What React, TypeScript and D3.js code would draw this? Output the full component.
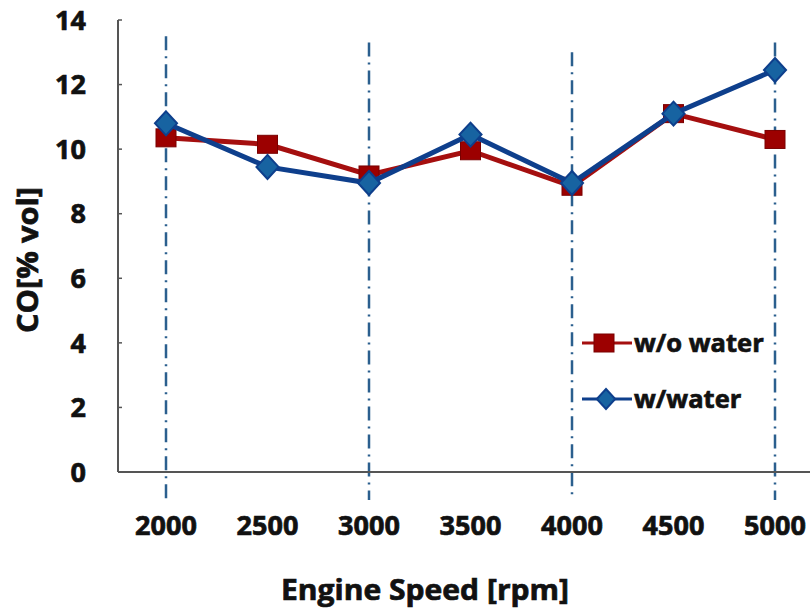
import React, { useEffect, useRef } from 'react';
import * as d3 from 'd3';

const speeds = ['2000', '2500', '3000', '3500', '4000', '4500', '5000'];
const withoutWater = [10.35, 10.15, 9.2, 9.95, 8.85, 11.1, 10.3];
const withWater = [10.8, 9.45, 8.95, 10.45, 8.95, 11.1, 12.45];
const yTicks = [0, 2, 4, 6, 8, 10, 12, 14];
const guideSpeeds = ['2000', '3000', '4000', '5000'];
const guideTops = [13.5, 13.3, 13.0, 13.3];

const W = 810;
const H = 615;
const FONT = '"Open Sans", "DejaVu Sans", sans-serif';

const App: React.FC = () => {
    const ref = useRef<SVGSVGElement>(null);

    useEffect(() => {
        if (!ref.current) return;
        const svg = d3.select(ref.current);
        svg.selectAll('*').remove();

        const x = d3.scalePoint<string>().domain(speeds).range([166, 775]);
        const y = d3.scaleLinear().domain([0, 14]).range([472, 20]);
        const left = 118;

        svg.append('rect').attr('width', W).attr('height', H).attr('fill', '#fff');

        // text helper, slightly heavier than plain bold
        const txt = (sel: d3.Selection<any, any, any, any>, size: number) =>
            sel.attr('font-family', FONT)
                .attr('font-weight', 700)
                .attr('font-size', size)
                .attr('fill', '#111')
                .attr('stroke', '#111')
                .attr('stroke-width', 0.7);

        // dash-dot guide lines
        svg.append('g')
            .selectAll('line')
            .data(guideSpeeds)
            .enter().append('line')
            .attr('x1', d => x(d) || 0)
            .attr('x2', d => x(d) || 0)
            .attr('y1', (d, i) => y(guideTops[i]))
            .attr('y2', y(0) + 28)
            .attr('stroke', '#2b5f8e')
            .attr('stroke-width', 2.5)
            .attr('stroke-dasharray', '14 6 2 6');

        // axes
        svg.append('line')
            .attr('x1', left).attr('x2', left)
            .attr('y1', y(14)).attr('y2', y(0))
            .attr('stroke', '#555').attr('stroke-width', 2);
        svg.append('line')
            .attr('x1', left).attr('x2', W)
            .attr('y1', y(0)).attr('y2', y(0))
            .attr('stroke', '#555').attr('stroke-width', 2);

        svg.append('g')
            .selectAll('line')
            .data(yTicks.slice(1))
            .enter().append('line')
            .attr('x1', left).attr('x2', left + 4)
            .attr('y1', d => y(d)).attr('y2', d => y(d))
            .attr('stroke', '#555').attr('stroke-width', 1.5);

        txt(svg.append('g')
            .selectAll('text')
            .data(yTicks)
            .enter().append('text')
            .attr('x', 86)
            .attr('y', d => y(d))
            .attr('dy', '0.36em')
            .attr('text-anchor', 'end')
            .text(d => d), 27);

        txt(svg.append('g')
            .selectAll('text')
            .data(speeds)
            .enter().append('text')
            .attr('x', d => x(d) || 0)
            .attr('y', 525)
            .attr('dy', '0.36em')
            .attr('text-anchor', 'middle')
            .text(d => d), 27);

        txt(svg.append('text')
            .attr('x', 425).attr('y', 600)
            .attr('text-anchor', 'middle')
            .attr('textLength', 288)
            .attr('lengthAdjust', 'spacingAndGlyphs')
            .text('Engine Speed [rpm]'), 29);

        txt(svg.append('text')
            .attr('transform', 'translate(38,260) rotate(-90)')
            .attr('text-anchor', 'middle')
            .attr('textLength', 146)
            .attr('lengthAdjust', 'spacingAndGlyphs')
            .text('CO[% vol]'), 28);

        const line = d3.line<number>()
            .x((d, i) => x(speeds[i]) || 0)
            .y(d => y(d));

        const red = '#a50f0f';
        const blue = '#0e3f8c';
        const diamondFill = '#1763a1';

        const square = (g: d3.Selection<SVGGElement, unknown, null, undefined>, cx: number, cy: number) => {
            g.append('rect')
                .attr('x', cx - 10).attr('y', cy - 9)
                .attr('width', 20).attr('height', 18)
                .attr('fill', '#9c0000')
                .attr('stroke', '#7a0000').attr('stroke-width', 1);
        };
        const diamond = (g: d3.Selection<SVGGElement, unknown, null, undefined>, cx: number, cy: number, r = 12) => {
            g.append('path')
                .attr('d', `M${cx},${cy - r}L${cx + r * 0.92},${cy}L${cx},${cy + r}L${cx - r * 0.92},${cy}Z`)
                .attr('fill', diamondFill)
                .attr('stroke', blue).attr('stroke-width', 2);
        };

        // w/o water
        const gRed = svg.append('g');
        gRed.append('path')
            .attr('d', line(withoutWater))
            .attr('fill', 'none')
            .attr('stroke', red)
            .attr('stroke-width', 5);
        withoutWater.forEach((v, i) => square(gRed, x(speeds[i]) || 0, y(v)));

        // w/water
        const gBlue = svg.append('g');
        gBlue.append('path')
            .attr('d', line(withWater))
            .attr('fill', 'none')
            .attr('stroke', blue)
            .attr('stroke-width', 5);
        withWater.forEach((v, i) => diamond(gBlue, x(speeds[i]) || 0, y(v)));

        // legend
        const lg = svg.append('g');
        lg.append('line').attr('x1', 582).attr('x2', 632).attr('y1', 343).attr('y2', 343)
            .attr('stroke', red).attr('stroke-width', 3);
        square(lg, 604, 343);
        lg.append('line').attr('x1', 582).attr('x2', 632).attr('y1', 399).attr('y2', 399)
            .attr('stroke', blue).attr('stroke-width', 3);
        diamond(lg, 606, 399, 10);
        ['w/o water', 'w/water'].forEach((t, i) => {
            txt(lg.append('text')
                .attr('x', 634).attr('y', i === 0 ? 343 : 399)
                .attr('dy', '0.36em')
                .text(t), 25.5);
        });
    }, []);

    return (
        <svg ref={ref} width={W} height={H}
            style={{ position: 'absolute', left: 0, top: 0, display: 'block' }} />
    );
};

export default App;
